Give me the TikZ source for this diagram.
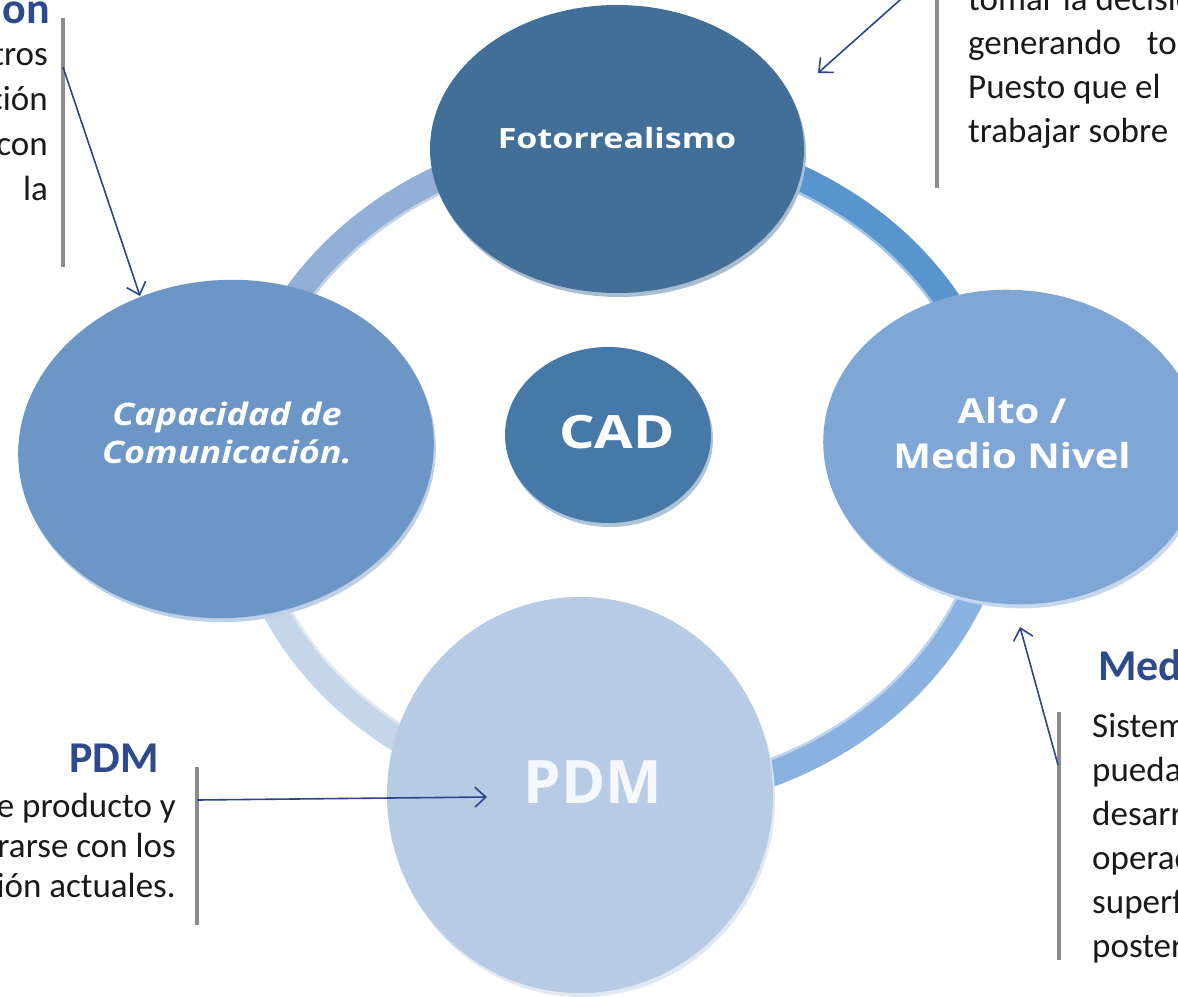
\documentclass[tikz,border=0pt]{standalone}
\usepackage{fontspec}
\setmainfont{Carlito}
\newfontfamily\diskfont{Open Sans}
\usetikzlibrary{shapes,arrows,arrows.meta,positioning,calc,shadows}
\definecolor{headblue}{RGB}{46,74,140}
\definecolor{arrowblue}{RGB}{44,68,140}
\definecolor{bargray}{RGB}{140,140,140}
\definecolor{fotoblue}{RGB}{66,111,152}
\definecolor{cadblue}{RGB}{70,121,168}
\definecolor{capblue}{RGB}{108,150,198}
\definecolor{altoblue}{RGB}{127,166,212}
\definecolor{pdmblue}{RGB}{183,203,228}
\definecolor{pdmtext}{RGB}{244,247,252}
\definecolor{ringtl}{RGB}{146,176,214}
\definecolor{ringtr}{RGB}{88,148,206}
\definecolor{ringbr}{RGB}{138,178,224}
\definecolor{ringbl}{RGB}{198,214,234}
\newcommand{\squish}[2][0.8]{\scalebox{1}[#1]{#2}}

\begin{document}
\begin{tikzpicture}[x=1pt, y=-1pt,
    disk/.style={ellipse, fill=#1, inner sep=0pt,
      drop shadow={shadow xshift=2pt, shadow yshift=-4pt, fill=white!55!#1, opacity=1}},
    disktxt/.style={text=white, align=center, inner sep=0pt},
    ringseg/.style={line width=28pt},
    ringshine/.style={line width=3pt, draw=white, opacity=0.45},
    bodytxt/.style={font=\fontsize{35}{44}\selectfont, text=black!90, inner sep=0pt},
    headtxt/.style={font=\fontsize{44}{50}\selectfont\bfseries, text=headblue, inner sep=0pt},
    bar/.style={draw=bargray, line width=3.5pt},
    conn/.style={draw=arrowblue, line width=1.6pt, -{Straight Barb[length=11pt,width=20pt]}}]
    \useasboundingbox (0,0) rectangle (1178,996);
    \clip (0,0) rectangle (1178,996);
    \fill[white] (0,0) rectangle (1178,996);

    % ring behind the disks
    \coordinate (ringc) at (620,470);
    \foreach \a/\col in {180/ringtl, 270/ringtr, 0/ringbr, 90/ringbl}{
        \draw[ringseg, draw=\col] ($(ringc)+({\a-2}:380 and 330)$)
            arc[start angle=\a-2, delta angle=94, x radius=380, y radius=330];
        \draw[ringshine] ($(ringc)+({\a-2}:367 and 317)$)
            arc[start angle=\a-2, delta angle=94, x radius=367, y radius=317];
    }

    % disks
    \node[disk=fotoblue, minimum width=374pt, minimum height=288pt] (foto) at (617,149) {};
    \node[disk=altoblue, minimum width=380pt, minimum height=314pt, rotate=-5] (alto) at (1013,447) {};
    \node[disk=capblue, minimum width=416pt, minimum height=338pt, rotate=4] (capac) at (226,449) {};
    \node[disk=pdmblue, minimum width=386pt, minimum height=396pt] (pdm) at (580,795) {};
    \node[disk=cadblue, minimum width=206pt, minimum height=176pt] (cad) at (608,435) {};

    \node[disktxt, font=\diskfont\bfseries\fontsize{34}{40}\selectfont] (fototxt) at (617,138) {\squish[0.82]{Fotorrealismo}};
    \node[disktxt, font=\diskfont\bfseries\itshape\fontsize{36}{38}\selectfont] (captxt) at (227,433)
        {\squish[0.86]{Capacidad de}\\\squish[0.86]{Comunicación.}};
    \node[disktxt, font=\diskfont\bfseries\fontsize{40}{45}\selectfont] (altotxt) at (1012,433)
        {\squish[0.86]{Alto /}\\\squish[0.86]{Medio Nivel}};
    \node[disktxt, font=\diskfont\bfseries\fontsize{56}{60}\selectfont] (cadtxt) at (617,432) {\squish[0.82]{CAD}};
    \node[disktxt, text=pdmtext, font=\diskfont\bfseries\fontsize{60}{64}\selectfont] (pdmtxt) at (593,782) {PDM};

    % top left note
    \node[headtxt, anchor=base east] (tlhead) at (50,23) {Comunicacion};
    \foreach \txt [count=\i] in {otros, información, con, la}
        \node[bodytxt, anchor=base east] (tl\i) at (48,20+45*\i) {\txt};
    \coordinate (tlbarA) at (63,18);
    \coordinate (tlbarB) at (63,267);
    \draw[bar] (tlbarA) -- (tlbarB);

    % top right note
    \node[bodytxt, anchor=base west] (tr1) at (968,10) {tomar la decisión};
    \node[bodytxt, anchor=base west] (tr2) at (968,54) {generando\hspace{18pt} todo};
    \node[bodytxt, anchor=base west] (tr3) at (968,98) {Puesto que el};
    \node[bodytxt, anchor=base west] (tr4) at (968,142) {trabajar sobre};
    \coordinate (trbarA) at (937,-5);
    \coordinate (trbarB) at (937,188);
    \draw[bar] (trbarA) -- (trbarB);

    % bottom left note
    \node[headtxt, anchor=base east] (blhead) at (159,772) {PDM};
    \node[bodytxt, anchor=base east] (bl1) at (176,817) {de producto y};
    \node[bodytxt, anchor=base east] (bl2) at (176,857) {integrarse con los};
    \node[bodytxt, anchor=base east] (bl3) at (176,897) {información actuales.};
    \coordinate (blbarA) at (197,767);
    \coordinate (blbarB) at (197,925);
    \draw[bar] (blbarA) -- (blbarB);

    % bottom right note
    \node[headtxt, anchor=base west] (brhead) at (1098,680) {Medio Nivel};
    \foreach \txt [count=\i] in {Sistema, pueda, desarrollar, operaciones, superficies, posteriormente}
        \node[bodytxt, anchor=base west] (br\i) at (1092,693+44*\i) {\txt};
    \coordinate (brbarA) at (1059,712);
    \coordinate (brbarB) at (1059,960);
    \draw[bar] (brbarA) -- (brbarB);

    % pointers
    \coordinate (tlfrom) at (63,67);
    \coordinate (tltip) at (140,296);
    \coordinate (trfrom) at (937,-33);
    \coordinate (trtip) at (818,73);
    \coordinate (blfrom) at (197,800);
    \coordinate (bltip) at (487,797);
    \coordinate (brfrom) at (1058,765);
    \coordinate (brtip) at (1020,627);
    \draw[conn] (tlfrom) -- (tltip);
    \draw[conn] (trfrom) -- (trtip);
    \draw[conn] (blfrom) -- (bltip);
    \draw[conn] (brfrom) -- (brtip);
\end{tikzpicture}
\end{document}
